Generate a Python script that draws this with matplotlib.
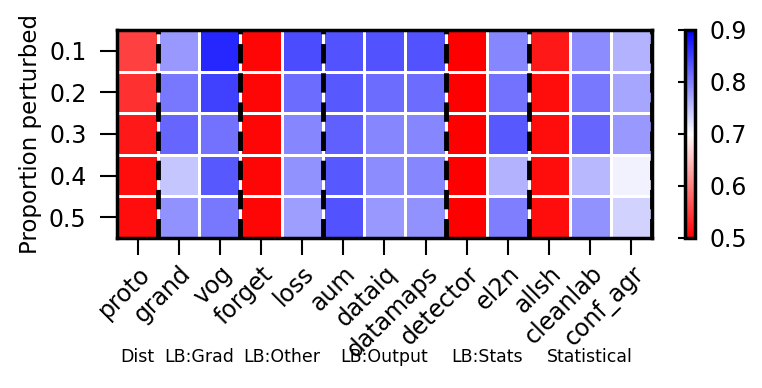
import numpy as np
import matplotlib
matplotlib.use("Agg")
import matplotlib.pyplot as plt
from matplotlib.transforms import blended_transform_factory

# rows = proportion perturbed, one list per method (top to bottom)
proportions = ["0.1", "0.2", "0.3", "0.4", "0.5"]
methods = ["proto", "grand", "vog", "forget", "loss", "aum", "dataiq",
           "datamaps", "detector", "el2n", "allsh", "cleanlab", "conf_agr"]

proto = [0.55, 0.538, 0.52, 0.51, 0.51]
grand = [0.78, 0.805, 0.82, 0.745, 0.785]
vog = [0.87, 0.85, 0.81, 0.83, 0.805]
forget = [0.505, 0.505, 0.505, 0.505, 0.505]
loss = [0.84, 0.815, 0.795, 0.785, 0.775]
aum = [0.835, 0.83, 0.825, 0.83, 0.835]
dataiq = [0.835, 0.815, 0.795, 0.79, 0.78]
datamaps = [0.835, 0.815, 0.795, 0.795, 0.785]
detector = [0.5, 0.5, 0.5, 0.5, 0.5]
el2n = [0.795, 0.81, 0.83, 0.76, 0.8]
allsh = [0.52, 0.51, 0.51, 0.51, 0.51]
cleanlab = [0.79, 0.805, 0.82, 0.755, 0.785]
conf_agr = [0.76, 0.77, 0.78, 0.71, 0.735]

group_names = ["Dist", "LB:Grad", "LB:Other", "LB:Output", "LB:Stats", "Statistical"]
group_sizes = [1, 2, 2, 3, 2, 3]

values = np.array([proto, grand, vog, forget, loss, aum, dataiq, datamaps,
                   detector, el2n, allsh, cleanlab, conf_agr]).T

fig = plt.figure(figsize=(7.62, 3.88), dpi=100)
ax = fig.add_axes([0.1535, 0.3866, 0.7021, 0.5361])
cax = fig.add_axes([0.899, 0.3866, 0.0135, 0.5361])

mesh = ax.pcolormesh(values, cmap="bwr_r", vmin=0.5, vmax=0.9,
                     edgecolors="white", linewidth=0.8)
ax.set_xlim(0, len(methods))
ax.set_ylim(len(proportions), 0)

# dashed separators between method groups
bounds = np.cumsum(group_sizes)
for b in bounds:
    ax.axvline(b, color="black", lw=3.5, linestyle=(0, (4, 2)))

ax.set_xticks(np.arange(len(methods)) + 0.5)
ax.set_xticklabels(methods, rotation=45, ha="right", rotation_mode="anchor")
ax.set_yticks(np.arange(len(proportions)) + 0.5)
ax.set_yticklabels(proportions)
ax.tick_params(axis="both", length=12, width=1.5)
ax.tick_params(axis="x", labelsize=17, pad=5)
ax.tick_params(axis="y", labelsize=17, pad=10)
ax.set_ylabel("Proportion perturbed", fontsize=16.5, labelpad=5)
for s in ax.spines.values():
    s.set_linewidth(2.5)

# group names under the tick labels
trans = blended_transform_factory(ax.transData, fig.transFigure)
starts = np.concatenate([[0], bounds[:-1]])
for name, st, b in zip(group_names, starts, bounds):
    ax.text((st + b) / 2, 0.08, name, transform=trans, ha="center",
            va="center", fontsize=12.5)

cbar = fig.colorbar(mesh, cax=cax)
cbar.set_ticks([0.5, 0.6, 0.7, 0.8, 0.9])
cbar.outline.set_linewidth(2.5)
cax.tick_params(left=True, right=False, labelleft=False, labelright=True,
                labelsize=17, length=5, width=1.5, pad=5)

fig.savefig("out.png", dpi=100)
